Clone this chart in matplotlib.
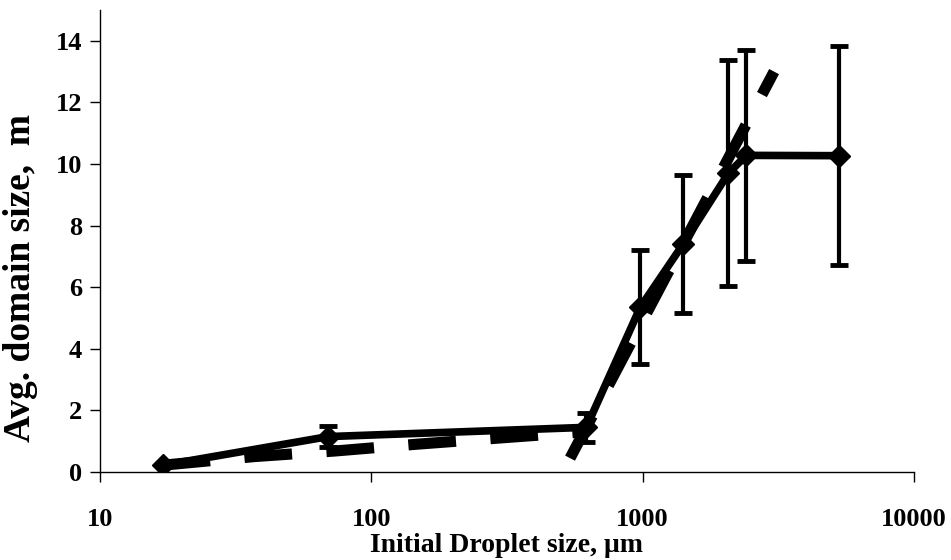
import matplotlib
matplotlib.use("Agg")
import matplotlib.pyplot as plt
import numpy as np

# Measured series (diamonds with error bars)
droplet_size = [17.1, 69.4, 620, 980, 1410, 2070, 2410, 5300]
domain_size = [0.22, 1.15, 1.45, 5.35, 7.40, 9.70, 10.28, 10.27]
domain_err = [0.0, 0.34, 0.48, 1.85, 2.23, 3.67, 3.42, 3.56]

# Dashed trend lines
fit_low_x = [17, 37, 73, 146, 293, 600]
fit_low_y = [0.22, 0.50, 0.68, 0.90, 1.10, 1.30]
fit_high_x = [540, 3050]
fit_high_y = [0.45, 13.0]

x_ticks = [10, 100, 1000, 10000]
x_tick_labels = ["10", "100", "1000", "10000"]
y_ticks = [0, 2, 4, 6, 8, 10, 12, 14]

plt.rcParams['font.family'] = ['Liberation Serif', 'DejaVu Serif']
plt.rcParams['font.weight'] = 'bold'

fig = plt.figure(figsize=(9.51, 5.60), dpi=100)
ax = fig.add_axes([100/951, 1-472/560, 814/951, 462/560])

dash_style = dict(color='black', lw=8, dashes=(4.3, 3.1), dash_capstyle='butt', zorder=2)
ax.plot(fit_low_x, fit_low_y, **dash_style)
ax.plot(fit_high_x, fit_high_y, **dash_style)

ax.errorbar(droplet_size, domain_size, yerr=domain_err, fmt='none', ecolor='black',
            elinewidth=3.0, capsize=6.5, capthick=3.5, zorder=3)
ax.plot(droplet_size, domain_size, color='black', lw=5.5, marker='D', markersize=11.5,
        markerfacecolor='black', markeredgecolor='black', zorder=4, solid_joinstyle='round')

ax.set_xscale('log')
ax.set_xlim(10, 10000)
ax.set_ylim(0, 15)
ax.set_xticks(x_ticks)
ax.set_xticklabels(x_tick_labels)
ax.xaxis.set_minor_locator(matplotlib.ticker.NullLocator())
ax.set_yticks(y_ticks)

for s in ['top', 'right']:
    ax.spines[s].set_visible(False)
for s in ['left', 'bottom']:
    ax.spines[s].set_linewidth(1.0)

ax.tick_params(axis='both', direction='out', length=7, width=1.0, labelsize=19)
ax.tick_params(axis='y', pad=6)
ax.tick_params(axis='x', pad=19)
for lab in ax.get_xticklabels() + ax.get_yticklabels():
    lab.set_fontweight('bold')

xl = ax.set_xlabel("Initial Droplet size, \u03bcm", fontsize=20, fontweight='bold')
xl.set_verticalalignment('center')
ax.xaxis.set_label_coords(0.5, -0.160)
yl = ax.set_ylabel("Avg. domain size,  m", fontsize=27, fontweight='bold')
yl.set_verticalalignment('center')
ax.yaxis.set_label_coords(-0.098, 0.42)

fig.savefig("out.png", dpi=100)
